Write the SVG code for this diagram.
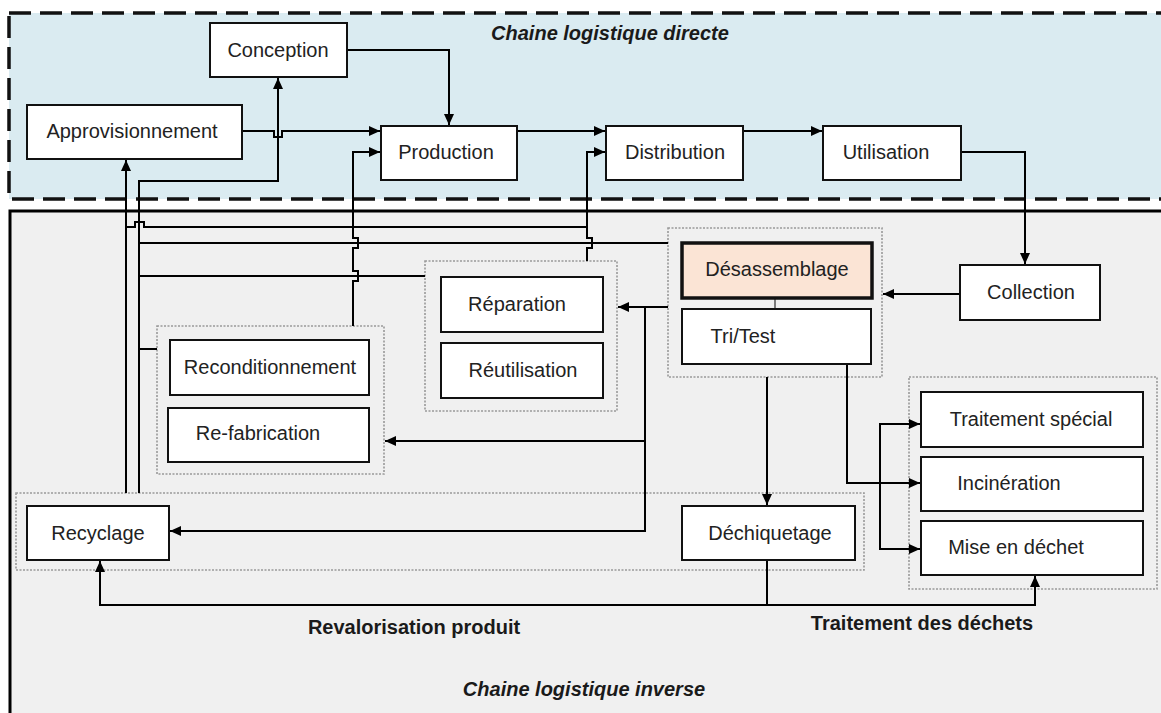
<svg xmlns="http://www.w3.org/2000/svg" width="1161" height="713" viewBox="0 0 1161 713">
<defs>
<marker id="ah" markerWidth="11" markerHeight="10" refX="11" refY="5" orient="auto" markerUnits="userSpaceOnUse"><path d="M0,0 L11,5 L0,10 z" fill="#000"/></marker>
<style>
.box{fill:#fff;stroke:#111;stroke-width:2}
.dis{fill:#fbe4d5;stroke:#111;stroke-width:3.5}
.grp{fill:none;stroke:#999;stroke-width:1.6;stroke-dasharray:2 1.5}
.lbl{font-family:"Liberation Sans",Arial,sans-serif;font-size:20px;fill:#222;text-anchor:middle;dominant-baseline:central}
.ttl{font-family:"Liberation Sans",Arial,sans-serif;font-size:20px;font-weight:bold;font-style:italic;fill:#1a1a1a;text-anchor:middle;dominant-baseline:central}
.bld{font-family:"Liberation Sans",Arial,sans-serif;font-size:20px;font-weight:bold;fill:#1a1a1a;text-anchor:middle;dominant-baseline:central}
.c{fill:none;stroke:#000;stroke-width:2}
.ca{fill:none;stroke:#000;stroke-width:2;marker-end:url(#ah)}
</style>
</defs>
<rect x="0" y="0" width="1161" height="713" fill="#fff"/>
<g id="zone-directe">
<rect x="9" y="13" width="1175" height="186" fill="#daebf1" stroke="#111" stroke-width="3.5" stroke-dasharray="22 9"/>
<text class="ttl" x="610" y="33">Chaine logistique directe</text>
</g>
<g id="zone-inverse">
<rect x="10" y="211" width="1175" height="520" fill="#f0f0f0" stroke="#000" stroke-width="3"/>
<text class="ttl" x="584" y="689">Chaine logistique inverse</text>
<text class="bld" x="414" y="627">Revalorisation produit</text>
<text class="bld" x="922" y="623">Traitement des déchets</text>
</g>
<g id="groups">
<rect class="grp" x="668" y="228" width="214" height="149"/>
<rect class="grp" x="425" y="261" width="192" height="150"/>
<rect class="grp" x="157" y="326" width="227" height="148"/>
<rect class="grp" x="16" y="493" width="848" height="77"/>
<rect class="grp" x="909" y="377" width="248" height="212"/>
</g>
<g id="connectors">
<path class="ca" d="M242,131 H274 V137 H282 V131 H380"/>
<path class="ca" d="M139,493 V181 H278 V78"/>
<path class="ca" d="M126,493 V160"/>
<path class="ca" d="M347,50 H449 V125"/>
<path class="ca" d="M517,131 H605"/>
<path class="ca" d="M743,131 H822"/>
<path class="ca" d="M961,152 H1025 V264"/>
<path class="ca" d="M960,294 H883"/>
<path class="ca" d="M353,326 V281 H358 V271 H353 V248 H358 V238 H353 V152 H380"/>
<path class="ca" d="M587,261 V248 H592 V238 H587 V152 H605"/>
<path class="c" d="M126,227 H135 V222 H144 V227 H587"/>
<path class="c" d="M139,243 H668"/>
<path class="c" d="M139,276 H425"/>
<path class="c" d="M139,349 H157"/>
<path class="ca" d="M668,307 H618"/>
<path class="ca" d="M645,307 V531 H170"/>
<path class="ca" d="M645,441 H385"/>
<path class="ca" d="M767,377 V505"/>
<path class="ca" d="M847,364 V483 H920"/>
<path class="ca" d="M880,483 V424 H920"/>
<path class="ca" d="M880,483 V549 H920"/>
<path class="ca" d="M767,560 V605 H100 V561"/>
<path class="ca" d="M767,605 H1035 V576"/>
<path d="M775,298 V309" stroke="#555" stroke-width="1.5" fill="none"/>
</g>
<g id="conception"><rect class="box" x="210" y="23" width="137" height="54"/><text class="lbl" x="278" y="50">Conception</text></g>
<g id="approvisionnement"><rect class="box" x="27" y="105" width="215" height="54"/><text class="lbl" x="132" y="131">Approvisionnement</text></g>
<g id="production"><rect class="box" x="381" y="126" width="136" height="54"/><text class="lbl" x="446" y="152">Production</text></g>
<g id="distribution"><rect class="box" x="606" y="126" width="137" height="54"/><text class="lbl" x="675" y="152">Distribution</text></g>
<g id="utilisation"><rect class="box" x="823" y="126" width="138" height="54"/><text class="lbl" x="886" y="152">Utilisation</text></g>
<g id="collection"><rect class="box" x="960" y="265" width="140" height="55"/><text class="lbl" x="1031" y="292">Collection</text></g>
<g id="desassemblage"><rect class="dis" x="682" y="243" width="190" height="55"/><text class="lbl" x="777" y="269">Désassemblage</text></g>
<g id="tritest"><rect class="box" x="682" y="309" width="189" height="55"/><text class="lbl" x="743" y="336">Tri/Test</text></g>
<g id="reparation"><rect class="box" x="441" y="277" width="162" height="55"/><text class="lbl" x="517" y="304">Réparation</text></g>
<g id="reutilisation"><rect class="box" x="441" y="343" width="162" height="55"/><text class="lbl" x="523" y="370">Réutilisation</text></g>
<g id="reconditionnement"><rect class="box" x="170" y="340" width="199" height="55"/><text class="lbl" x="270" y="367">Reconditionnement</text></g>
<g id="refabrication"><rect class="box" x="168" y="408" width="201" height="54"/><text class="lbl" x="258" y="433">Re-fabrication</text></g>
<g id="recyclage"><rect class="box" x="27" y="506" width="142" height="54"/><text class="lbl" x="98" y="533">Recyclage</text></g>
<g id="dechiquetage"><rect class="box" x="682" y="506" width="173" height="54"/><text class="lbl" x="770" y="533">Déchiquetage</text></g>
<g id="traitement-special"><rect class="box" x="921" y="392" width="222" height="55"/><text class="lbl" x="1031" y="419">Traitement spécial</text></g>
<g id="incineration"><rect class="box" x="921" y="457" width="222" height="54"/><text class="lbl" x="1009" y="483">Incinération</text></g>
<g id="mise-en-dechet"><rect class="box" x="921" y="521" width="222" height="54"/><text class="lbl" x="1016" y="547">Mise en déchet</text></g>
</svg>
